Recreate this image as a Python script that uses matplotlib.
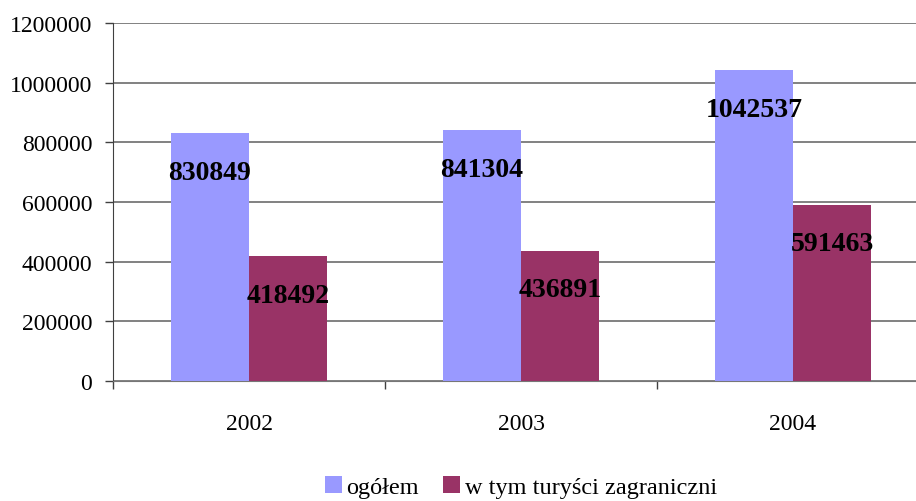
import numpy as np
import matplotlib
matplotlib.use('Agg')
import matplotlib.pyplot as plt

lata = ['2002', '2003', '2004']
ogolem = [830849, 841304, 1042537]
zagraniczni = [418492, 436891, 591463]
y_ticks = [0, 200000, 400000, 600000, 800000, 1000000, 1200000]

plt.rcParams['font.family'] = ['Liberation Serif', 'DejaVu Serif']

fig = plt.figure(figsize=(9.16, 5.02), dpi=100)
ax = fig.add_axes([0.1234, 0.2390, 0.8908, 0.7131])

x = np.arange(len(lata))
w = 0.287
b1 = ax.bar(x - w / 2, ogolem, w, color='#9999FF', label='ogółem', zorder=3)
b2 = ax.bar(x + w / 2, zagraniczni, w, color='#993366', label='w tym turyści zagraniczni', zorder=3)

for bars, vals in [(b1, ogolem), (b2, zagraniczni)]:
    for r, v in zip(bars, vals):
        ax.annotate(str(v), (r.get_x() + r.get_width() / 2, v), xytext=(0, -39),
                    textcoords='offset pixels', ha='center', va='center',
                    fontsize=20, fontweight='bold', zorder=4)

ax.set_ylim(0, 1200000)
ax.set_yticks(y_ticks)
ax.set_yticklabels([str(t) for t in y_ticks], fontsize=17)
ax.yaxis.grid(True, color='#777777', linewidth=1.3, zorder=0)
ax.tick_params(axis='y', length=6, width=1, color='#404040', pad=9)

ax.set_xlim(-0.5, 2.5)
ax.set_xticks([-0.5, 0.5, 1.5, 2.5])
ax.set_xticklabels([])
ax.set_xticks(x, minor=True)
ax.set_xticklabels(lata, minor=True, fontsize=17)
ax.tick_params(axis='x', which='major', length=6, width=1, color='#404040')
ax.tick_params(axis='x', which='minor', length=0, pad=23)

ax.spines['top'].set_visible(False)
ax.spines['right'].set_visible(False)
ax.spines['left'].set_color('#404040')
ax.spines['bottom'].set_color('#777777')

ax.legend(loc='center', bbox_to_anchor=(0.5, -0.295), ncol=2, frameon=False,
          fontsize=17.5, handlelength=0.7, handleheight=0.7, handletextpad=0.2,
          columnspacing=1.0)

fig.savefig('out.png', dpi=100)
